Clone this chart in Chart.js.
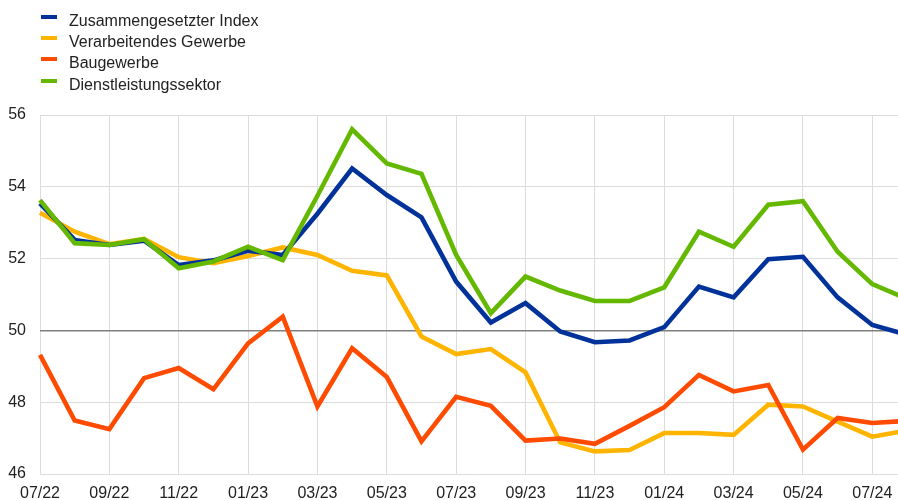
<!DOCTYPE html>
<html>
<head>
<meta charset="utf-8">
<script src="https://cdn.jsdelivr.net/npm/chart.js@4"></script>
<style>
  html, body { margin: 0; padding: 0; background: #fff; overflow: hidden; }
  #wrap { position: relative; width: 898px; height: 500px; overflow: hidden; }
  #box { position: absolute; left: 0; top: 0; width: 920px; height: 500px; }
  #legend { position: absolute; left: 0; top: 0; font-family: "Liberation Sans", Arial, sans-serif; font-size: 16px; line-height: 16px; color: #222; }
  .item { position: absolute; left: 0; white-space: nowrap; }
  .sw { position: absolute; left: 41px; width: 16px; height: 4px; }
  .lb { position: absolute; left: 69px; }
</style>
</head>
<body>
<div id="wrap">
  <div id="box"><canvas id="c" width="920" height="500"></canvas></div>
  <div id="legend"></div>
</div>
<script>
const months = ["07/22","08/22","09/22","10/22","11/22","12/22","01/23","02/23","03/23","04/23","05/23","06/23",
                "07/23","08/23","09/23","10/23","11/23","12/23","01/24","02/24","03/24","04/24","05/24","06/24","07/24","08/24"];
const composite = [53.54,52.52,52.38,52.50,51.82,51.95,52.22,52.10,53.25,54.51,53.77,53.15,
                   51.36,50.22,50.76,49.97,49.67,49.72,50.09,51.22,50.92,51.98,52.05,50.92,50.15,49.88];
const manufacturing = [53.28,52.75,52.40,52.55,52.04,51.87,52.07,52.31,52.10,51.66,51.53,49.83,
                       49.34,49.48,48.83,46.88,46.63,46.67,47.14,47.14,47.09,47.93,47.88,47.46,47.04,47.21];
const construction = [49.32,47.49,47.25,48.67,48.95,48.36,49.64,50.38,47.88,49.50,48.70,46.91,
                      48.15,47.90,46.93,46.99,46.84,47.34,47.86,48.76,48.30,48.48,46.68,47.56,47.42,47.48];
const services = [53.63,52.43,52.38,52.54,51.73,51.92,52.33,51.96,53.75,55.60,54.65,54.36,
                  52.10,50.48,51.50,51.11,50.82,50.82,51.20,52.75,52.33,53.50,53.60,52.19,51.29,50.88];
const seriesNames = ["Zusammengesetzter Index","Verarbeitendes Gewerbe","Baugewerbe","Dienstleistungssektor"];
const seriesColors = ["#003299","#FFB400","#FF4B00","#65B800"];
const yTicks = [46,48,50,52,54,56];

const seriesData = [composite, manufacturing, construction, services];
const drawOrder = [2, 3, 1, 0];

const legend = document.getElementById('legend');
seriesNames.forEach((n, i) => {
  const it = document.createElement('div');
  it.className = 'item';
  it.style.top = (i * 21.2) + 'px';
  it.innerHTML = '<div class="sw" style="top:15px;background:' + seriesColors[i] + '"></div>' +
                 '<div class="lb" style="top:13px">' + n + '</div>';
  legend.appendChild(it);
});

new Chart(document.getElementById('c'), {
  type: 'line',
  data: {
    labels: months,
    datasets: seriesNames.map((n, i) => ({
      label: n,
      data: seriesData[i],
      borderColor: seriesColors[i],
      backgroundColor: seriesColors[i],
      borderWidth: 4.6,
      pointRadius: 0,
      tension: 0,
      fill: false,
      order: drawOrder[i]
    }))
  },
  options: {
    responsive: false,
    animation: false,
    layout: { padding: { top: 115, right: 13, left: 0, bottom: 0 } },
    plugins: { legend: { display: false }, tooltip: { enabled: false } },
    scales: {
      x: {
        type: 'category',
        offset: false,
        border: { display: false },
        grid: {
          drawTicks: false,
          color: ctx => (ctx.index % 2 === 0 ? '#dcdcdc' : 'rgba(0,0,0,0)'),
          lineWidth: 1
        },
        ticks: {
          autoSkip: false,
          maxRotation: 0,
          padding: 10,
          color: '#222',
          font: { family: '"Liberation Sans", Arial, sans-serif', size: 16 },
          callback: function(v, i) { return i % 2 === 0 ? months[i] : ''; }
        },
        afterFit: s => { s.height = 26; }
      },
      y: {
        min: 46, max: 56,
        border: { display: false },
        afterBuildTicks: s => { s.ticks = yTicks.map(v => ({ value: v })); },
        grid: {
          drawTicks: false,
          color: ctx => (ctx.tick && ctx.tick.value === 50 ? '#7f7f7f' : '#dcdcdc'),
          lineWidth: ctx => (ctx.tick && ctx.tick.value === 50 ? 1.5 : 1)
        },
        ticks: {
          padding: 14,
          color: '#222',
          font: { family: '"Liberation Sans", Arial, sans-serif', size: 16 }
        },
        afterFit: s => { s.width = 40; }
      }
    }
  }
});
</script>
</body>
</html>
